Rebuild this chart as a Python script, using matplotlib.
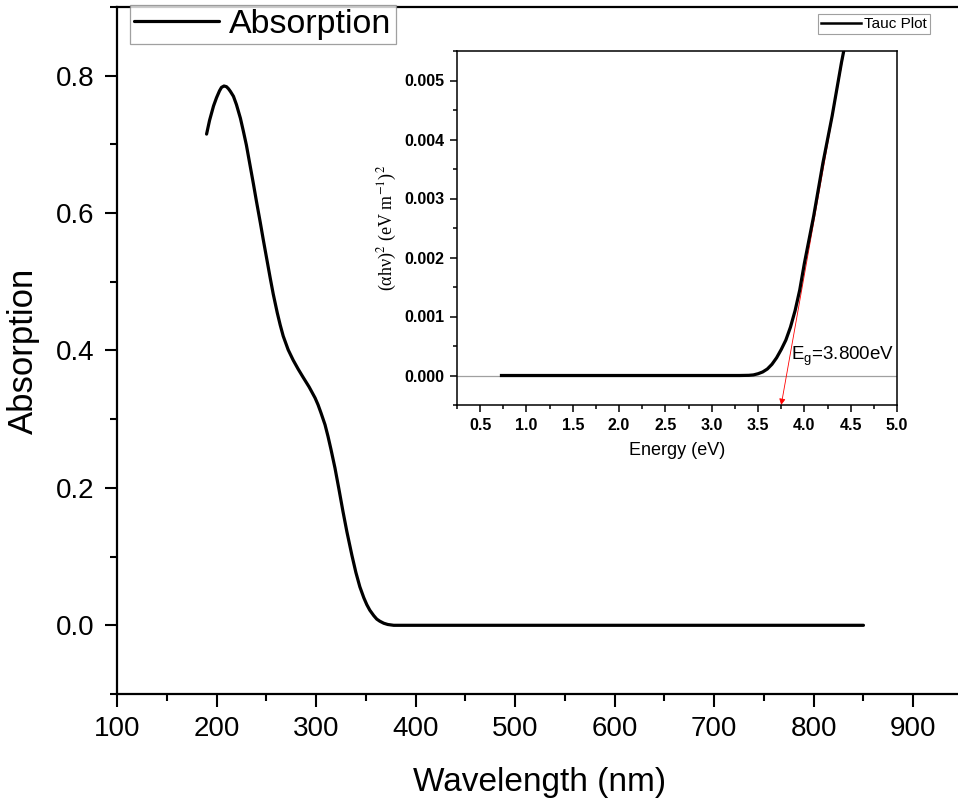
import matplotlib
matplotlib.use("Agg")
import matplotlib.pyplot as plt
from matplotlib.ticker import MultipleLocator

plt.rcParams['font.family'] = ['Liberation Sans', 'DejaVu Sans']
plt.rcParams['mathtext.fontset'] = 'custom'
plt.rcParams['mathtext.rm'] = 'Liberation Sans'
plt.rcParams['mathtext.it'] = 'Liberation Sans'

# Main absorption spectrum
wavelength = [190, 193, 197, 200, 203, 205, 207.5, 210, 212, 214, 217, 220, 224,
              227, 230, 234, 237, 240, 244, 247, 251, 254, 257, 261, 264, 267,
              272, 277, 282, 287, 293, 296, 299, 302, 305, 309, 312, 315, 319,
              323, 327, 331, 336, 340, 344, 348, 351, 354, 358, 361, 364, 368,
              372, 378, 400, 500, 600, 700, 800, 850]
absorption = [0.715, 0.735, 0.756, 0.768, 0.778, 0.783, 0.785, 0.784, 0.781,
              0.777, 0.770, 0.758, 0.738, 0.719, 0.699, 0.667, 0.643, 0.618,
              0.586, 0.561, 0.529, 0.505, 0.482, 0.455, 0.437, 0.421, 0.401,
              0.386, 0.373, 0.361, 0.347, 0.339, 0.331, 0.321, 0.309, 0.292,
              0.275, 0.256, 0.229, 0.198, 0.166, 0.136, 0.102, 0.077, 0.056,
              0.040, 0.030, 0.022, 0.014, 0.009, 0.006, 0.003, 0.0012, 0.0, 0.0,
              0.0, 0.0, 0.0, 0.0, 0.0]

# Tauc plot inset
energy = [0.73, 1.0, 1.5, 2.0, 2.5, 3.0, 3.3, 3.4, 3.45, 3.5, 3.55, 3.6, 3.65,
          3.7, 3.75, 3.8, 3.85, 3.9, 3.95, 4.0, 4.05, 4.1, 4.2, 4.3, 4.4, 4.45]
tauc = [0, 0, 0, 0, 0, 0, 0, 0.000003, 0.00001, 0.00003, 0.00006, 0.00011,
        0.00019, 0.0003, 0.00044, 0.0006, 0.00082, 0.0011, 0.00145, 0.0019,
        0.0023, 0.0027, 0.0036, 0.0044, 0.0053, 0.0057]
fit_line_x = [4.43, 3.75]
fit_line_y = [0.0055, -0.0005]
eg_label = "E$_{\\mathrm{g}}$=3.800eV"

W, H = 958, 807
fig = plt.figure(figsize=(W / 100, H / 100), dpi=100)

ax = fig.add_axes([117 / W, (H - 694) / H, 846 / W, 687 / H])
ax.plot(wavelength, absorption, color='black', lw=2.3, label='Absorption',
        solid_capstyle='round', solid_joinstyle='round')
ax.set_xlim(100, 950)
ax.set_ylim(-0.1, 0.9)
ax.xaxis.set_major_locator(MultipleLocator(100))
ax.xaxis.set_minor_locator(MultipleLocator(50))
ax.yaxis.set_minor_locator(MultipleLocator(0.1))
ax.set_yticks([0.0, 0.2, 0.4, 0.6, 0.8])
ax.tick_params(which='major', direction='out', length=9, width=1.5, labelsize=20, pad=7)
ax.tick_params(which='minor', direction='out', length=5, width=1.5)
ax.tick_params(top=False, right=False)
for s in ax.spines.values():
    s.set_linewidth(1.6)
ax.set_xlabel('Wavelength (nm)', fontsize=24, labelpad=18)
ax.set_ylabel('Absorption', fontsize=25, labelpad=12)
leg = ax.legend(loc='upper left', bbox_to_anchor=(130 / W, 1 - 5 / H),
                bbox_transform=fig.transFigure, fontsize=24.5, frameon=True,
                fancybox=False, handlelength=2.5, borderaxespad=0,
                borderpad=0.12, handletextpad=0.3)
leg.get_frame().set_edgecolor('#888888')
leg.get_frame().set_linewidth(0.9)

# Inset
ai = fig.add_axes([457 / W, (H - 405) / H, 440 / W, 354 / H])
ai.axhline(0, color='#a0a0a0', lw=0.9, zorder=1)
ai.plot(energy, tauc, color='black', lw=2.3, label='Tauc Plot', zorder=3,
        solid_joinstyle='round')
ai.annotate('', xy=(fit_line_x[1], fit_line_y[1]), xytext=(fit_line_x[0], fit_line_y[0]),
            arrowprops=dict(arrowstyle='-|>', color='red', lw=0.6, mutation_scale=9,
                            shrinkA=0, shrinkB=0), zorder=2, annotation_clip=False)
ai.text(3.86, 0.00012, eg_label, fontsize=13.5, ha='left', va='bottom')
ai.set_xlim(0.25, 5.0)
ai.set_ylim(-0.0005, 0.0055)
ai.xaxis.set_minor_locator(MultipleLocator(0.25))
ai.yaxis.set_minor_locator(MultipleLocator(0.0005))
xt = [0.5, 1.0, 1.5, 2.0, 2.5, 3.0, 3.5, 4.0, 4.5, 5.0]
yt = [0.0, 0.001, 0.002, 0.003, 0.004, 0.005]
ai.set_xticks(xt)
ai.set_xticklabels([f"{v:.1f}" for v in xt])
ai.set_yticks(yt)
ai.set_yticklabels([f"{v:.3f}" for v in yt])
ai.tick_params(which='major', direction='out', length=5, width=1.1, labelsize=11.5, pad=4)
ai.tick_params(which='minor', direction='out', length=3, width=1.1)
for lab in ai.get_xticklabels() + ai.get_yticklabels():
    lab.set_fontweight('bold')
for s in ai.spines.values():
    s.set_linewidth(1.1)
ai.set_xlabel('Energy (eV)', fontsize=13, labelpad=7)
ai.set_ylabel('(αhν)$^{2}$ (eV m$^{-1}$)$^{2}$', fontsize=13,
              family=['Liberation Serif', 'DejaVu Serif'], math_fontfamily='stix',
              labelpad=4)
leg2 = ai.legend(loc='upper left', bbox_to_anchor=(818 / W, 1 - 14 / H),
                 bbox_transform=fig.transFigure, fontsize=11, frameon=True,
                 fancybox=False, handlelength=2.6, borderaxespad=0,
                 borderpad=0.2, handletextpad=0.2)
leg2.get_frame().set_edgecolor('#888888')
leg2.get_frame().set_linewidth(0.8)
for ln in leg2.get_lines():
    ln.set_linewidth(1.8)

fig.savefig('out.png', dpi=100)
